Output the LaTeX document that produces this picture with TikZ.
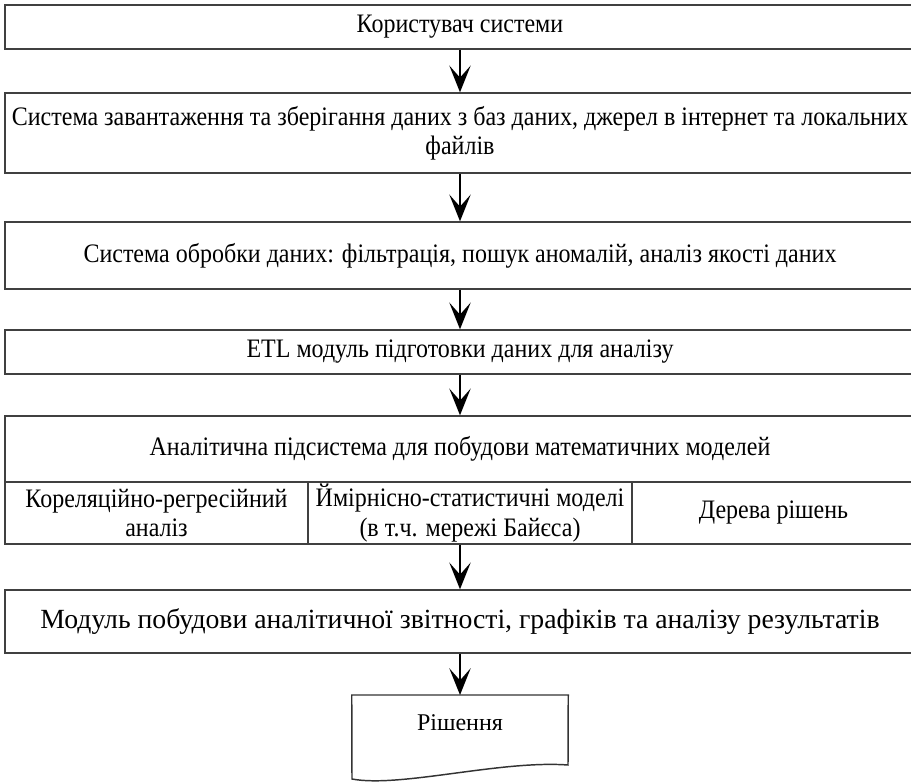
\documentclass[tikz,border=0pt]{standalone}
\usepackage{fontspec}
\setmainfont{Liberation Serif}
\newfontfamily\vuzkyi[FakeStretch=0.9]{Liberation Serif}
\usetikzlibrary{arrows.meta}
\tikzset{
    blok/.style={draw=black!75,line width=1.1pt,inner sep=0pt,align=center,minimum width=682.5pt},
    vuzko/.style={font=\fontsize{20}{22}\vuzkyi},
    strilka/.style={-{Stealth[length=20pt,width=16pt,inset=9pt]},line width=2pt},
}
\begin{document}
\begin{tikzpicture}[x=.75pt,y=-.75pt]
    \useasboundingbox(0,0)rectangle(911,782);
    \node[blok,vuzko,minimum height=33pt](kor)at(460,27){Користувач системи};
    \node[blok,vuzko,minimum height=60pt](zav)at(460,133){Система завантаження та зберігання даних з баз даних, джерел в інтернет та локальних\\файлів};
    \node[blok,vuzko,minimum height=50.25pt](obr)at(460,255.5){Система обробки даних: фільтрація, пошук аномалій, аналіз якості даних};
    \node[blok,vuzko,minimum height=33pt](etl)at(460,352){ETL модуль підготовки даних для аналізу};
    \node[blok,vuzko,minimum height=49.5pt](anl)at(460,449){Аналітична підсистема для побудови математичних моделей};
    \foreach \n/\x/\w/\t in {k1/156.5/227.25/{Кореляційно-регресійний\\аналіз},
                             k2/470/243/{Ймірнісно-статистичні моделі\\(в т.ч. мережі Байєса)},
                             k3/773.5/212.25/{Дерева рішень}}{
        \node[blok,vuzko,minimum width=\w pt,minimum height=46.5pt](\n)at(\x,513){\t};
    }
    \node[blok,minimum height=47.25pt,font=\fontsize{20.8}{24}\selectfont](zvit)at(460,621.5){Модуль побудови аналітичної звітності, графіків та аналізу результатів};
    \node[minimum width=162pt,minimum height=63pt,inner sep=0pt,anchor=north](dok)at(460,695){};
    \node[font=\fontsize{18}{22}\selectfont](rish)at(460,723){Рішення};
    \draw[draw=black!80,line width=1.1pt](dok.north west)--(352,779)..controls(400,788)and(500,760)..(568,765)--(dok.north east)--cycle;
    \foreach \a/\b in {kor/zav,zav/obr,obr/etl,etl/anl}{
        \draw[strilka](\a.south)--(\b.north);
    }
    \draw[strilka](k2.south-|zvit.north)--(zvit.north);
    \draw[strilka](zvit.south)--(dok.north);
\end{tikzpicture}
\end{document}
